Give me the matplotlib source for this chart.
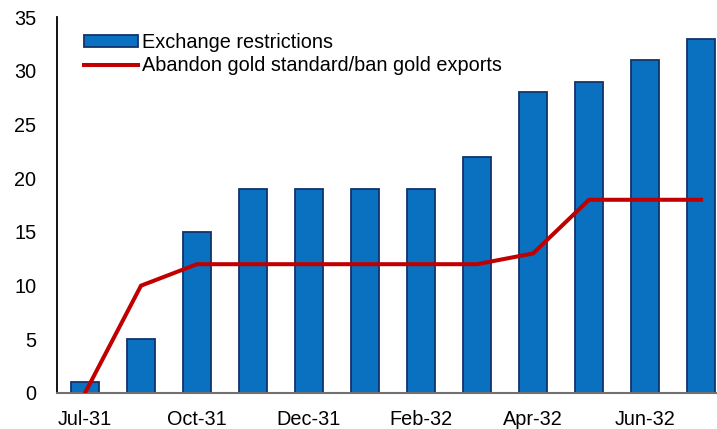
import matplotlib
matplotlib.use("Agg")
import matplotlib.pyplot as plt
import numpy as np

months = ["Jul-31", "Sep-31", "Oct-31", "Nov-31", "Dec-31", "Jan-32",
          "Feb-32", "Mar-32", "Apr-32", "May-32", "Jun-32", "Jul-32"]
exchange_restrictions = [1, 5, 15, 19, 19, 19, 19, 22, 28, 29, 31, 33]
abandon_gold = [0, 10, 12, 12, 12, 12, 12, 12, 13, 18, 18, 18]
yticks = [0, 5, 10, 15, 20, 25, 30, 35]

plt.rcParams['font.family'] = ['Liberation Sans', 'DejaVu Sans']

W, H = 717, 429
fig = plt.figure(figsize=(W / 100, H / 100), dpi=100)
ax = fig.add_axes([57 / W, (H - 393) / H, (W - 57) / W, (393 - 17.3) / H])

x = np.arange(len(months))
bars = ax.bar(x, exchange_restrictions, width=0.5, color="#0A70C0",
              edgecolor="#13336E", linewidth=1.3, label="Exchange restrictions", zorder=2)
line, = ax.plot(x, abandon_gold, color="#C00000", linewidth=2.9,
                label="Abandon gold standard/ban gold exports", zorder=3,
                solid_joinstyle="miter")

ax.set_ylim(0, 35)
ax.set_xlim(-0.5, -0.5 + (W - 57) / 56)
ax.set_yticks(yticks)
ax.set_xticks(x[::2])
ax.set_xticklabels(months[::2])
ax.tick_params(axis='both', length=0, labelsize=14.3)
ax.tick_params(axis='y', pad=15)
ax.tick_params(axis='x', pad=12)

for s in ["top", "right"]:
    ax.spines[s].set_visible(False)
ax.spines["left"].set_color("black")
ax.spines["left"].set_linewidth(1.3)
ax.spines["bottom"].set_color("#707070")
ax.spines["bottom"].set_linewidth(1.5)

leg = ax.legend(handles=[bars, line], loc="upper left",
                bbox_to_anchor=((84 - 57) / (W - 57), 1 - (33 - 17.3) / (393 - 17.3)),
                frameon=False, fontsize=14.3, handlelength=2.72, handleheight=0.55,
                handletextpad=0.2, labelspacing=0.22, borderpad=0, borderaxespad=0)

fig.savefig("out.png", dpi=100)
